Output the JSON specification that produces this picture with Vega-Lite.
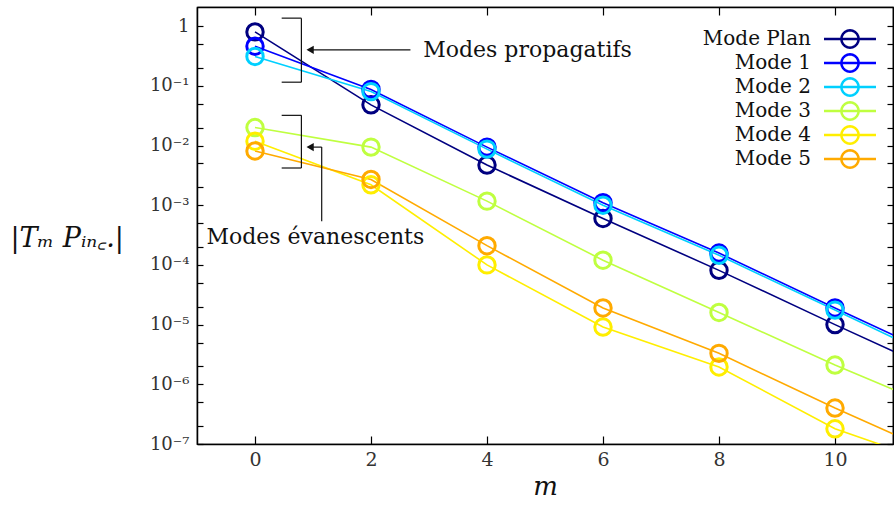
{
  "$schema": "https://vega.github.io/schema/vega-lite/v6.json",
  "width": 696,
  "height": 437,
  "padding": {"left": 10, "top": 6, "right": 0, "bottom": 0},
  "background": "white",
  "config": {
    "view": {"stroke": "black", "strokeWidth": 1.2},
    "font": "DejaVu Serif",
    "axis": {"labelFont": "DejaVu Serif", "titleFont": "DejaVu Serif", "domainColor": "black", "tickColor": "black", "labelColor": "#333333", "titleColor": "#111111", "grid": false}
  },
  "datasets": {
    "modes": [
      {"mode": "Mode Plan", "m": 0, "v": 0.80}, {"mode": "Mode Plan", "m": 2, "v": 0.048}, {"mode": "Mode Plan", "m": 4, "v": 0.0047}, {"mode": "Mode Plan", "m": 6, "v": 0.00060}, {"mode": "Mode Plan", "m": 8, "v": 0.000081}, {"mode": "Mode Plan", "m": 10, "v": 0.0000100}, {"mode": "Mode Plan", "m": 12, "v": 0.0000013},
      {"mode": "Mode 1", "m": 0, "v": 0.46}, {"mode": "Mode 1", "m": 2, "v": 0.087}, {"mode": "Mode 1", "m": 4, "v": 0.0094}, {"mode": "Mode 1", "m": 6, "v": 0.0011}, {"mode": "Mode 1", "m": 8, "v": 0.000158}, {"mode": "Mode 1", "m": 10, "v": 0.000019}, {"mode": "Mode 1", "m": 12, "v": 0.0000024},
      {"mode": "Mode 2", "m": 0, "v": 0.31}, {"mode": "Mode 2", "m": 2, "v": 0.080}, {"mode": "Mode 2", "m": 4, "v": 0.0087}, {"mode": "Mode 2", "m": 6, "v": 0.0010}, {"mode": "Mode 2", "m": 8, "v": 0.000145}, {"mode": "Mode 2", "m": 10, "v": 0.0000175}, {"mode": "Mode 2", "m": 12, "v": 0.0000021},
      {"mode": "Mode 3", "m": 0, "v": 0.020}, {"mode": "Mode 3", "m": 2, "v": 0.0094}, {"mode": "Mode 3", "m": 4, "v": 0.00117}, {"mode": "Mode 3", "m": 6, "v": 0.00012}, {"mode": "Mode 3", "m": 8, "v": 0.000016}, {"mode": "Mode 3", "m": 10, "v": 0.0000021}, {"mode": "Mode 3", "m": 12, "v": 0.00000032},
      {"mode": "Mode 4", "m": 0, "v": 0.0118}, {"mode": "Mode 4", "m": 2, "v": 0.0022}, {"mode": "Mode 4", "m": 4, "v": 0.00010}, {"mode": "Mode 4", "m": 6, "v": 0.0000091}, {"mode": "Mode 4", "m": 8, "v": 0.00000195}, {"mode": "Mode 4", "m": 10, "v": 0.00000018}, {"mode": "Mode 4", "m": 12, "v": 0.000000038},
      {"mode": "Mode 5", "m": 0, "v": 0.0081}, {"mode": "Mode 5", "m": 2, "v": 0.0027}, {"mode": "Mode 5", "m": 4, "v": 0.00021}, {"mode": "Mode 5", "m": 6, "v": 0.000019}, {"mode": "Mode 5", "m": 8, "v": 0.0000033}, {"mode": "Mode 5", "m": 10, "v": 0.00000040}, {"mode": "Mode 5", "m": 12, "v": 0.000000055}
    ],
    "segments": [
      {"x": 0.80, "x2": 0.80, "y": 1.36, "y2": 0.115},
      {"x": 0.46, "x2": 0.80, "y": 1.36, "y2": 1.36},
      {"x": 0.46, "x2": 0.80, "y": 0.115, "y2": 0.115},
      {"x": 2.68, "x2": 0.92, "y": 0.40, "y2": 0.40},
      {"x": 0.80, "x2": 0.80, "y": 0.032, "y2": 0.0042},
      {"x": 0.46, "x2": 0.80, "y": 0.032, "y2": 0.032},
      {"x": 0.46, "x2": 0.80, "y": 0.0042, "y2": 0.0042},
      {"x": 1.15, "x2": 1.15, "y": 0.00054, "y2": 0.0094},
      {"x": 1.15, "x2": 0.92, "y": 0.0094, "y2": 0.0094}
    ],
    "heads": [
      {"x": 0.95, "y": 0.40},
      {"x": 0.95, "y": 0.0094}
    ],
    "label1": [{"x": 2.9, "y": 0.40, "t": "Modes propagatifs"}],
    "label2": [{"x": 1.04, "y": 0.000293, "t": "Modes évanescents"}]
  },
  "resolve": {"axis": {"x": "independent", "y": "independent"}},
  "layer": [
    {
      "data": {"name": "modes"},
      "mark": {"type": "line", "strokeWidth": 1.6, "clip": true},
      "encoding": {
        "x": {"field": "m", "type": "quantitative", "scale": {"domain": [-1, 11], "nice": false},
          "axis": {"orient": "bottom", "title": "m", "titleFontStyle": "italic", "titleFontSize": 26, "titleFontWeight": "normal", "titlePadding": 4, "values": [0, 2, 4, 6, 8, 10], "labelFontSize": 19, "tickSize": -8, "labelPadding": 14, "domainWidth": 1.5, "tickWidth": 1.2}},
        "y": {"field": "v", "type": "quantitative", "scale": {"type": "log", "domain": [1e-7, 2.09], "nice": false},
          "axis": {"orient": "left", "title": "|Tₘ Pᵢₙ꜀.|", "titleFontStyle": "italic", "titleAngle": 0, "titleAlign": "left", "titleBaseline": "middle", "titleX": -187, "titleY": 231, "titleFontSize": 27, "titleFontWeight": "normal",
            "values": [1, 0.5, 0.2, 0.1, 0.05, 0.02, 0.01, 0.005, 0.002, 0.001, 0.0005, 0.0002, 0.0001, 0.00005, 0.00002, 0.00001, 0.000005, 0.000002, 0.000001, 0.0000005, 0.0000002, 0.0000001],
            "labelExpr": "datum.value == 1 ? '1' : (abs(log(datum.value)/LN10 - round(log(datum.value)/LN10)) < 0.000001 ? '10' + ['⁰','⁻¹','⁻²','⁻³','⁻⁴','⁻⁵','⁻⁶','⁻⁷'][-round(log(datum.value)/LN10)] : '')",
            "labelFontSize": 18, "tickSize": -6, "labelPadding": 14, "domainWidth": 1.5, "tickWidth": 1.2, "labelOverlap": false}},
        "color": {"field": "mode", "type": "nominal",
          "scale": {"domain": ["Mode Plan", "Mode 1", "Mode 2", "Mode 3", "Mode 4", "Mode 5"], "range": ["#000080", "#0000ff", "#00d0ff", "#bfff40", "#ffee00", "#ffaa00"]},
          "legend": {"orient": "none", "legendX": 643, "legendY": 22, "title": null, "labelFont": "DejaVu Serif", "labelFontSize": 20, "labelColor": "#111111", "labelAlign": "right", "labelOffset": -49,
            "symbolType": "M1,0L0.951,0.309L0.809,0.588L0.588,0.809L0.309,0.951L0,1L-0.309,0.951L-0.588,0.809L-0.809,0.588L-0.951,0.309L-1,0L-0.951,-0.309L-0.809,-0.588L-0.588,-0.809L-0.309,-0.951L0,-1L0.309,-0.951L0.588,-0.809L0.809,-0.588L0.951,-0.309ZM-3,0L3,0",
            "symbolSize": 300, "symbolStrokeWidth": 2.5, "symbolFillColor": "transparent", "rowPadding": -6.4}}
      }
    },
    {
      "data": {"name": "modes"},
      "mark": {"type": "point", "shape": "circle", "filled": false, "strokeWidth": 3, "size": 270, "opacity": 1, "clip": true},
      "encoding": {
        "x": {"field": "m", "type": "quantitative", "scale": {"domain": [-1, 11], "nice": false},
          "axis": {"orient": "top", "title": null, "labels": false, "values": [0, 2, 4, 6, 8, 10], "tickSize": -8, "domainWidth": 1.5, "tickWidth": 1.2}},
        "y": {"field": "v", "type": "quantitative", "scale": {"type": "log", "domain": [1e-7, 2.09], "nice": false},
          "axis": {"orient": "right", "title": null, "labels": false, "tickSize": -6, "domainWidth": 1.5, "tickWidth": 1.2,
            "values": [1, 0.5, 0.2, 0.1, 0.05, 0.02, 0.01, 0.005, 0.002, 0.001, 0.0005, 0.0002, 0.0001, 0.00005, 0.00002, 0.00001, 0.000005, 0.000002, 0.000001, 0.0000005, 0.0000002, 0.0000001]}},
        "color": {"field": "mode", "type": "nominal",
          "scale": {"domain": ["Mode Plan", "Mode 1", "Mode 2", "Mode 3", "Mode 4", "Mode 5"], "range": ["#000080", "#0000ff", "#00d0ff", "#bfff40", "#ffee00", "#ffaa00"]}}
      }
    },
    {
      "data": {"name": "segments"},
      "mark": {"type": "rule", "color": "#111111", "strokeWidth": 1.2},
      "encoding": {
        "x": {"field": "x", "type": "quantitative", "scale": {"domain": [-1, 11], "nice": false}, "axis": null},
        "x2": {"field": "x2"},
        "y": {"field": "y", "type": "quantitative", "scale": {"type": "log", "domain": [1e-7, 2.09], "nice": false}, "axis": null},
        "y2": {"field": "y2"}
      }
    },
    {
      "data": {"name": "heads"},
      "mark": {"type": "point", "shape": "triangle-left", "filled": true, "color": "#111111", "size": 70, "opacity": 1},
      "encoding": {
        "x": {"field": "x", "type": "quantitative", "scale": {"domain": [-1, 11], "nice": false}, "axis": null},
        "y": {"field": "y", "type": "quantitative", "scale": {"type": "log", "domain": [1e-7, 2.09], "nice": false}, "axis": null}
      }
    },
    {
      "data": {"name": "label1"},
      "mark": {"type": "text", "font": "DejaVu Serif", "fontSize": 22, "color": "#111111", "baseline": "middle", "align": "left"},
      "encoding": {
        "x": {"field": "x", "type": "quantitative", "scale": {"domain": [-1, 11], "nice": false}, "axis": null},
        "y": {"field": "y", "type": "quantitative", "scale": {"type": "log", "domain": [1e-7, 2.09], "nice": false}, "axis": null},
        "text": {"field": "t"}
      }
    },
    {
      "data": {"name": "label2"},
      "mark": {"type": "text", "font": "DejaVu Serif", "fontSize": 22, "color": "#111111", "baseline": "middle", "align": "center"},
      "encoding": {
        "x": {"field": "x", "type": "quantitative", "scale": {"domain": [-1, 11], "nice": false}, "axis": null},
        "y": {"field": "y", "type": "quantitative", "scale": {"type": "log", "domain": [1e-7, 2.09], "nice": false}, "axis": null},
        "text": {"field": "t"}
      }
    }
  ]
}
